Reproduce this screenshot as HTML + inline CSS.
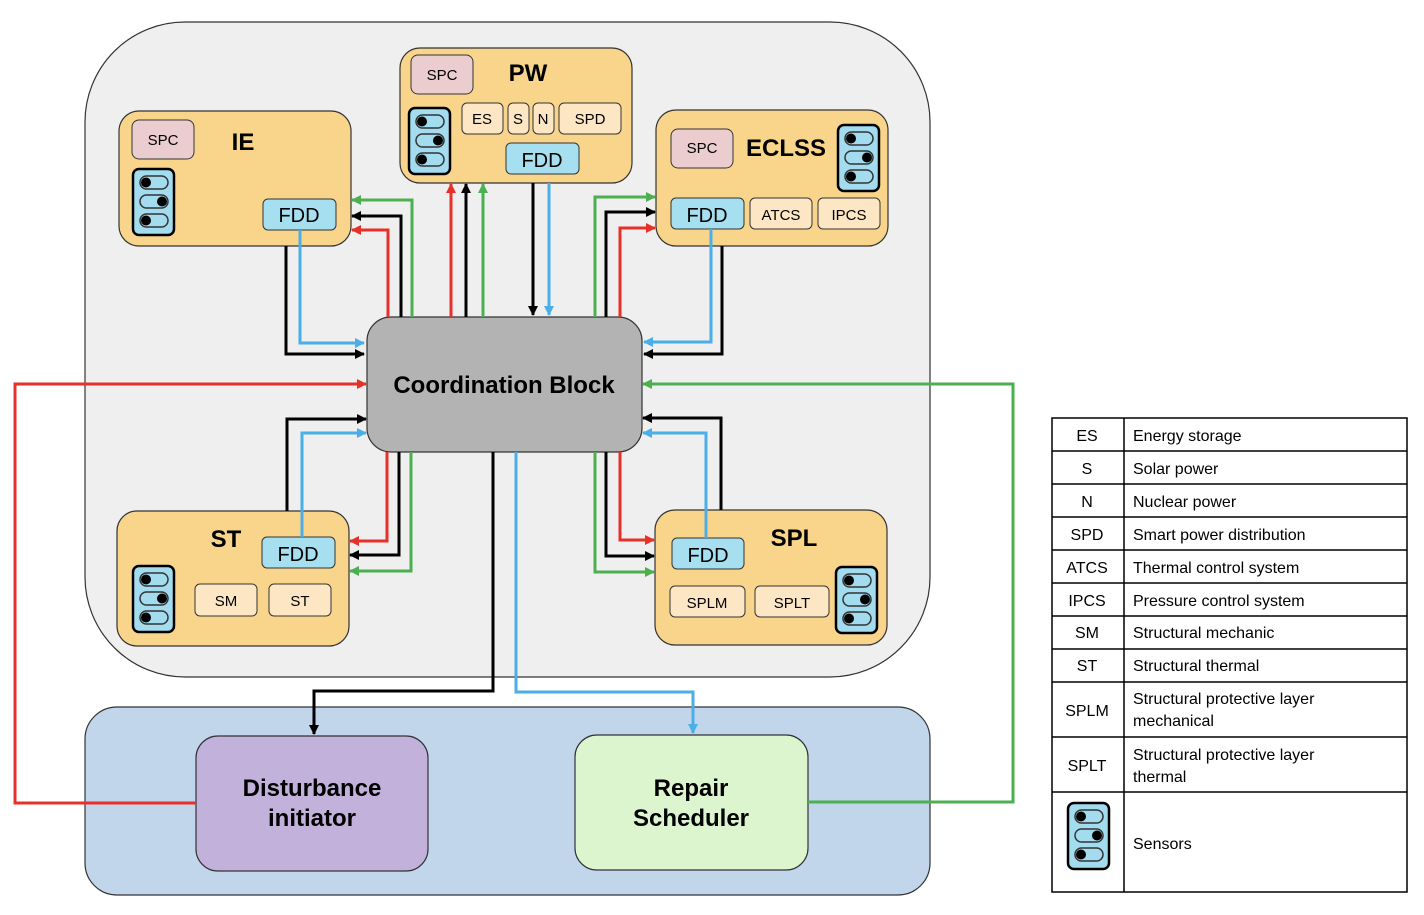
<!DOCTYPE html>
<html><head><meta charset="utf-8"><style>
html,body{margin:0;padding:0;background:#fff}
svg text{font-family:"Liberation Sans",sans-serif}
</style></head><body>
<svg width="1424" height="910" viewBox="0 0 1424 910" xmlns="http://www.w3.org/2000/svg">
<defs>
<marker id="ak" markerWidth="10" markerHeight="10" refX="9" refY="5" orient="auto" markerUnits="userSpaceOnUse"><path d="M0,0 L10,5 L0,10 z" fill="#000"/></marker>
<marker id="ar" markerWidth="10" markerHeight="10" refX="9" refY="5" orient="auto" markerUnits="userSpaceOnUse"><path d="M0,0 L10,5 L0,10 z" fill="#e8302a"/></marker>
<marker id="ag" markerWidth="10" markerHeight="10" refX="9" refY="5" orient="auto" markerUnits="userSpaceOnUse"><path d="M0,0 L10,5 L0,10 z" fill="#4caf50"/></marker>
<marker id="ab" markerWidth="10" markerHeight="10" refX="9" refY="5" orient="auto" markerUnits="userSpaceOnUse"><path d="M0,0 L10,5 L0,10 z" fill="#4aaee8"/></marker>
<g id="sens">
<rect x="0" y="0" width="41" height="66" rx="6" fill="#a3dcef" stroke="#000" stroke-width="2.5"/>
<rect x="7" y="7" width="28" height="13" rx="6.5" fill="none" stroke="#333" stroke-width="1.5"/>
<circle cx="13" cy="13.5" r="5" fill="#000"/>
<rect x="7" y="26" width="28" height="13" rx="6.5" fill="none" stroke="#333" stroke-width="1.5"/>
<circle cx="29" cy="32.5" r="5" fill="#000"/>
<rect x="7" y="45" width="28" height="13" rx="6.5" fill="none" stroke="#333" stroke-width="1.5"/>
<circle cx="13" cy="51.5" r="5" fill="#000"/>
</g>
</defs>

<rect x="85" y="22" width="845" height="655" rx="100" fill="#efefef" stroke="#333" stroke-width="1.2"/>
<rect x="85" y="707" width="845" height="188" rx="32" fill="#c1d5eb" stroke="#333" stroke-width="1.2"/>

<!-- PW -->
<rect x="400" y="48" width="232" height="135" rx="20" fill="#f9d58c" stroke="#333" stroke-width="1.2"/>
<rect x="411" y="55" width="62" height="39" rx="7" fill="#ebcdcf" stroke="#333"/>
<text x="442" y="80" font-size="15" text-anchor="middle">SPC</text>
<text x="528" y="81" font-size="24" font-weight="bold" text-anchor="middle">PW</text>
<use href="#sens" x="409" y="108"/>
<rect x="462" y="103" width="41" height="31" rx="5" fill="#fde6c3" stroke="#333"/><text x="482" y="124" font-size="15" text-anchor="middle">ES</text>
<rect x="508" y="103" width="21" height="31" rx="5" fill="#fde6c3" stroke="#333"/><text x="518" y="124" font-size="15" text-anchor="middle">S</text>
<rect x="533" y="103" width="21" height="31" rx="5" fill="#fde6c3" stroke="#333"/><text x="543" y="124" font-size="15" text-anchor="middle">N</text>
<rect x="559" y="103" width="62" height="31" rx="5" fill="#fde6c3" stroke="#333"/><text x="590" y="124" font-size="15" text-anchor="middle">SPD</text>
<rect x="506" y="143" width="73" height="31" rx="5" fill="#a6dff0" stroke="#333"/><text x="542" y="167" font-size="20" text-anchor="middle">FDD</text>

<!-- IE -->
<rect x="119" y="111" width="232" height="135" rx="20" fill="#f9d58c" stroke="#333" stroke-width="1.2"/>
<rect x="132" y="120" width="62" height="39" rx="7" fill="#ebcdcf" stroke="#333"/>
<text x="163" y="145" font-size="15" text-anchor="middle">SPC</text>
<text x="243" y="150" font-size="24" font-weight="bold" text-anchor="middle">IE</text>
<use href="#sens" x="133" y="169"/>
<rect x="263" y="199" width="73" height="31" rx="5" fill="#a6dff0" stroke="#333"/><text x="299" y="222" font-size="20" text-anchor="middle">FDD</text>

<!-- ECLSS -->
<rect x="656" y="110" width="232" height="136" rx="20" fill="#f9d58c" stroke="#333" stroke-width="1.2"/>
<rect x="671" y="129" width="62" height="39" rx="7" fill="#ebcdcf" stroke="#333"/>
<text x="702" y="153" font-size="15" text-anchor="middle">SPC</text>
<text x="786" y="156" font-size="24" font-weight="bold" text-anchor="middle">ECLSS</text>
<use href="#sens" x="838" y="125"/>
<rect x="671" y="198" width="73" height="31" rx="5" fill="#a6dff0" stroke="#333"/><text x="707" y="222" font-size="20" text-anchor="middle">FDD</text>
<rect x="750" y="198" width="62" height="31" rx="5" fill="#fde6c3" stroke="#333"/><text x="781" y="220" font-size="15" text-anchor="middle">ATCS</text>
<rect x="818" y="198" width="62" height="31" rx="5" fill="#fde6c3" stroke="#333"/><text x="849" y="220" font-size="15" text-anchor="middle">IPCS</text>

<!-- ST -->
<rect x="117" y="511" width="232" height="135" rx="20" fill="#f9d58c" stroke="#333" stroke-width="1.2"/>
<text x="226" y="547" font-size="24" font-weight="bold" text-anchor="middle">ST</text>
<use href="#sens" x="133" y="566"/>
<rect x="262" y="537" width="73" height="31" rx="5" fill="#a6dff0" stroke="#333"/><text x="298" y="561" font-size="20" text-anchor="middle">FDD</text>
<rect x="195" y="584" width="62" height="32" rx="5" fill="#fde6c3" stroke="#333"/><text x="226" y="606" font-size="15" text-anchor="middle">SM</text>
<rect x="269" y="584" width="62" height="32" rx="5" fill="#fde6c3" stroke="#333"/><text x="300" y="606" font-size="15" text-anchor="middle">ST</text>

<!-- SPL -->
<rect x="655" y="510" width="232" height="135" rx="20" fill="#f9d58c" stroke="#333" stroke-width="1.2"/>
<text x="794" y="546" font-size="24" font-weight="bold" text-anchor="middle">SPL</text>
<use href="#sens" x="836" y="567"/>
<rect x="672" y="538" width="72" height="31" rx="5" fill="#a6dff0" stroke="#333"/><text x="708" y="562" font-size="20" text-anchor="middle">FDD</text>
<rect x="670" y="586" width="75" height="31" rx="5" fill="#fde6c3" stroke="#333"/><text x="707" y="608" font-size="15" text-anchor="middle">SPLM</text>
<rect x="755" y="586" width="74" height="31" rx="5" fill="#fde6c3" stroke="#333"/><text x="792" y="608" font-size="15" text-anchor="middle">SPLT</text>

<!-- Coordination -->
<rect x="367" y="317" width="275" height="135" rx="24" fill="#b3b3b3" stroke="#333" stroke-width="1.2"/>
<text x="504" y="393" font-size="24" font-weight="bold" text-anchor="middle">Coordination Block</text>

<!-- bottom boxes -->
<rect x="196" y="736" width="232" height="135" rx="22" fill="#c2b1db" stroke="#333" stroke-width="1.2"/>
<text x="312" y="796" font-size="24" font-weight="bold" text-anchor="middle">Disturbance</text>
<text x="312" y="826" font-size="24" font-weight="bold" text-anchor="middle">initiator</text>
<rect x="575" y="735" width="233" height="135" rx="22" fill="#dcf5cf" stroke="#333" stroke-width="1.2"/>
<text x="691" y="796" font-size="24" font-weight="bold" text-anchor="middle">Repair</text>
<text x="691" y="826" font-size="24" font-weight="bold" text-anchor="middle">Scheduler</text>

<g fill="none" stroke-width="3">
<path d="M300,230 V343 H364" stroke="#4aaee8" marker-end="url(#ab)"/>
<path d="M286,246 V354 H364" stroke="#000" marker-end="url(#ak)"/>
<path d="M388,317 V230 H352" stroke="#e8302a" marker-end="url(#ar)"/>
<path d="M401,317 V216 H352" stroke="#000" marker-end="url(#ak)"/>
<path d="M412,317 V200 H352" stroke="#4caf50" marker-end="url(#ag)"/>
<path d="M451,317 V184" stroke="#e8302a" marker-end="url(#ar)"/>
<path d="M466,317 V184" stroke="#000" marker-end="url(#ak)"/>
<path d="M483,317 V184" stroke="#4caf50" marker-end="url(#ag)"/>
<path d="M533,183 V315" stroke="#000" marker-end="url(#ak)"/>
<path d="M549,183 V315" stroke="#4aaee8" marker-end="url(#ab)"/>
<path d="M595,317 V197 H655" stroke="#4caf50" marker-end="url(#ag)"/>
<path d="M606,317 V212 H655" stroke="#000" marker-end="url(#ak)"/>
<path d="M620,317 V228 H655" stroke="#e8302a" marker-end="url(#ar)"/>
<path d="M711,229 V342 H644" stroke="#4aaee8" marker-end="url(#ab)"/>
<path d="M722,246 V354 H644" stroke="#000" marker-end="url(#ak)"/>
<path d="M287,511 V419 H366" stroke="#000" marker-end="url(#ak)"/>
<path d="M302,537 V433 H366" stroke="#4aaee8" marker-end="url(#ab)"/>
<path d="M387,452 V541 H350" stroke="#e8302a" marker-end="url(#ar)"/>
<path d="M399,452 V555 H350" stroke="#000" marker-end="url(#ak)"/>
<path d="M411,452 V571 H350" stroke="#4caf50" marker-end="url(#ag)"/>
<path d="M721,510 V418 H643" stroke="#000" marker-end="url(#ak)"/>
<path d="M706,538 V433 H643" stroke="#4aaee8" marker-end="url(#ab)"/>
<path d="M595,452 V572 H654" stroke="#4caf50" marker-end="url(#ag)"/>
<path d="M606,452 V556 H654" stroke="#000" marker-end="url(#ak)"/>
<path d="M620,452 V540 H654" stroke="#e8302a" marker-end="url(#ar)"/>
<path d="M493,452 V691 H314 V734" stroke="#000" marker-end="url(#ak)"/>
<path d="M516,452 V692 H693 V733" stroke="#4aaee8" marker-end="url(#ab)"/>
<path d="M196,803 H15 V384 H366" stroke="#e8302a" marker-end="url(#ar)"/>
<path d="M808,802 H1013 V384 H643" stroke="#4caf50" marker-end="url(#ag)"/>
</g>

<g stroke="#000" stroke-width="1.5" fill="none">
<rect x="1052" y="418" width="355" height="474"/>
<line x1="1124" y1="418" x2="1124" y2="892"/>
<line x1="1052" y1="451" x2="1407" y2="451"/>
<line x1="1052" y1="484" x2="1407" y2="484"/>
<line x1="1052" y1="517" x2="1407" y2="517"/>
<line x1="1052" y1="550" x2="1407" y2="550"/>
<line x1="1052" y1="583" x2="1407" y2="583"/>
<line x1="1052" y1="616" x2="1407" y2="616"/>
<line x1="1052" y1="649" x2="1407" y2="649"/>
<line x1="1052" y1="682" x2="1407" y2="682"/>
<line x1="1052" y1="737" x2="1407" y2="737"/>
<line x1="1052" y1="792" x2="1407" y2="792"/>
</g>
<g font-size="16">
<text x="1087" y="441" text-anchor="middle">ES</text><text x="1133" y="441">Energy storage</text>
<text x="1087" y="474" text-anchor="middle">S</text><text x="1133" y="474">Solar power</text>
<text x="1087" y="507" text-anchor="middle">N</text><text x="1133" y="507">Nuclear power</text>
<text x="1087" y="540" text-anchor="middle">SPD</text><text x="1133" y="540">Smart power distribution</text>
<text x="1087" y="573" text-anchor="middle">ATCS</text><text x="1133" y="573">Thermal control system</text>
<text x="1087" y="606" text-anchor="middle">IPCS</text><text x="1133" y="606">Pressure control system</text>
<text x="1087" y="638" text-anchor="middle">SM</text><text x="1133" y="638">Structural mechanic</text>
<text x="1087" y="671" text-anchor="middle">ST</text><text x="1133" y="671">Structural thermal</text>
<text x="1087" y="716" text-anchor="middle">SPLM</text><text x="1133" y="704">Structural protective layer</text><text x="1133" y="726">mechanical</text>
<text x="1087" y="771" text-anchor="middle">SPLT</text><text x="1133" y="760">Structural protective layer</text><text x="1133" y="782">thermal</text>
<text x="1133" y="849">Sensors</text>
</g>
<use href="#sens" x="1068" y="803"/>
</svg>
</body></html>
